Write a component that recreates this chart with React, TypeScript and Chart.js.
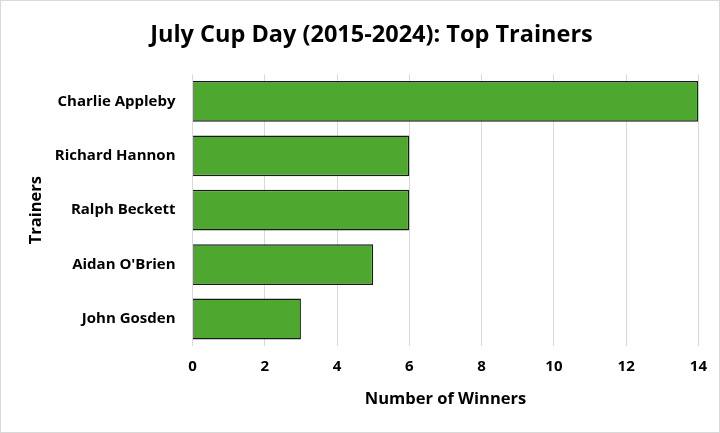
import { useEffect, useRef } from "react";
import { Chart, registerables } from "chart.js";

Chart.register(...registerables);

const trainers = ["Charlie Appleby", "Richard Hannon", "Ralph Beckett", "Aidan O'Brien", "John Gosden"];
const winners = [14, 6, 6, 5, 3];

const FONT = "'Open Sans', 'Noto Sans', sans-serif";

export default function App() {
  const canvasRef = useRef<HTMLCanvasElement>(null);

  useEffect(() => {
    document.body.style.margin = "0";
    if (!canvasRef.current) return;

    const chart = new Chart(canvasRef.current, {
      type: "bar",
      data: {
        labels: trainers,
        datasets: [
          {
            label: "Winners",
            data: winners,
            backgroundColor: "#4ea72e",
            borderColor: "#1a1a1a",
            borderWidth: 1.5,
            barPercentage: 0.75,
            categoryPercentage: 1,
          },
        ],
      },
      options: {
        indexAxis: "y",
        animation: false,
        responsive: true,
        maintainAspectRatio: false,
        layout: { padding: { top: 8, right: 2, bottom: 19, left: 25 } },
        plugins: {
          legend: { display: false },
          tooltip: { enabled: false },
          title: {
            display: true,
            text: "July Cup Day (2015-2024): Top Trainers",
            color: "#000",
            font: { family: FONT, size: 23.5, weight: "bold" },
            padding: { top: 12, bottom: 25 },
          },
        },
        scales: {
          x: {
            min: 0,
            max: 14,
            ticks: {
              stepSize: 2,
              color: "#000",
              font: { family: FONT, size: 15, weight: "bold" },
              padding: 12,
            },
            grid: { color: "#d9d9d9", drawTicks: false },
            border: { display: false },
            title: {
              display: true,
              text: "Number of Winners",
              color: "#000",
              font: { family: FONT, size: 16.5, weight: "bold" },
              padding: { top: 1 },
            },
          },
          y: {
            ticks: {
              color: "#000",
              font: { family: FONT, size: 15, weight: "bold" },
              padding: 9,
            },
            grid: { display: false },
            border: { display: false },
            title: {
              display: true,
              text: "Trainers",
              color: "#000",
              font: { family: FONT, size: 16.5, weight: "bold" },
              padding: 0,
            },
          },
        },
      },
    });

    return () => chart.destroy();
  }, []);

  return (
    <div
      style={{
        width: 720,
        height: 433,
        boxSizing: "border-box",
        border: "1px solid #d9d9d9",
        background: "#fff",
      }}
    >
      <canvas ref={canvasRef} />
    </div>
  );
}
